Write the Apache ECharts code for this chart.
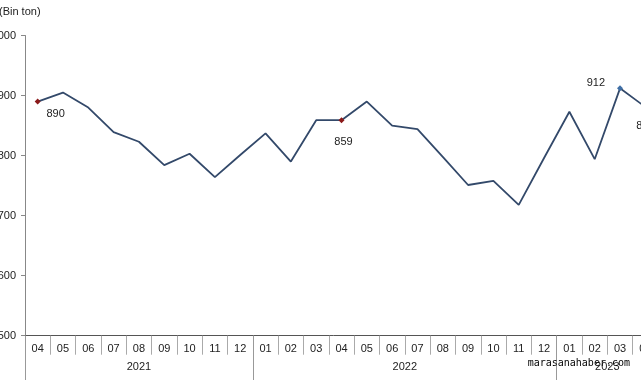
<!DOCTYPE html>
<html><head><meta charset="utf-8">
<script src="https://cdn.jsdelivr.net/npm/echarts@6/dist/echarts.min.js"></script>
<style>html,body{margin:0;padding:0;background:#fff}#c{width:641px;height:380px}</style>
</head><body><div id="c"></div>
<script>
const years = ['2021', '2022', '2023'];
const months2021 = ['04','05','06','07','08','09','10','11','12'];
const months2022 = ['01','02','03','04','05','06','07','08','09','10','11','12'];
const months2023 = ['01','02','03','04'];
const values2021 = [890, 905, 880, 839, 823, 784, 803, 764, 801];
const values2022 = [837, 790, 859, 859, 890, 850, 844, 798, 751, 758, 718, 796];
const values2023 = [873, 794, 912, 881];
const yMin = 500, yMax = 1000, yStep = 100;
const unitLabel = '(Bin ton)';
const watermark = 'marasanahaber.com';

const monthGroups = [months2021, months2022, months2023];
const categories = [].concat(...monthGroups);
const values = [].concat(values2021, values2022, values2023);
const N = categories.length;

const bounds = [0]; const centers = [];
monthGroups.forEach(g => { const s = bounds[bounds.length - 1]; bounds.push(s + g.length); centers.push(s + g.length / 2); });

const FONT = "'Liberation Sans', Arial, sans-serif";
const red = '#8B1A1A', blue = '#3F6FA6', lineColor = '#33496A';

const highlights = {
  0:  { color: red,  label: { position: 'bottom', distance: 4, offset: [18, 0] } },
  12: { color: red,  label: { position: 'bottom', distance: 13, offset: [2, 0] } },
  23: { color: blue, label: { position: 'left', distance: 12, offset: [0, -5] } },
  24: { color: lineColor, label: { position: 'bottom', distance: 11, offset: [0, 0] } }
};

const data = values.map((v, i) => {
  const h = highlights[i];
  if (!h) return { value: v };
  return {
    value: v, symbol: 'diamond', symbolSize: 6, itemStyle: { color: h.color },
    label: Object.assign({ show: true, color: '#222', fontSize: 11, fontFamily: FONT }, h.label)
  };
});

const chart = echarts.init(document.getElementById('c'), null, { renderer: 'canvas' });
chart.setOption({
  animation: false,
  title: { text: unitLabel, left: -1, top: 6, padding: 0, textStyle: { fontSize: 11, fontWeight: 'normal', color: '#222', fontFamily: FONT } },
  grid: { left: 25, right: -17, top: 35.5, bottom: 44.3, containLabel: false, outerBoundsMode: 'none' },
  xAxis: [
    {
      type: 'category', data: categories, boundaryGap: true, position: 'bottom',
      axisLine: { show: true, lineStyle: { color: '#555', width: 1 } },
      axisTick: { show: true, interval: 0, length: 19, alignWithLabel: false, lineStyle: { color: '#aaa' } },
      axisLabel: { interval: 0, margin: 8, fontSize: 11, color: '#222', fontFamily: FONT, hideOverlap: false },
      splitLine: { show: false }
    },
    {
      type: 'value', min: 0, max: N, position: 'bottom',
      axisLine: { show: false },
      axisTick: { show: true, customValues: bounds, length: 46, lineStyle: { color: '#999' } },
      axisLabel: { show: true, customValues: centers, margin: 26, fontSize: 11, color: '#222', fontFamily: FONT,
        formatter: v => { const k = centers.findIndex(c => Math.abs(c - v) < 1e-6); return k >= 0 ? years[k] : ''; } },
      splitLine: { show: false }
    }
  ],
  yAxis: {
    type: 'value', min: yMin, max: yMax, interval: yStep,
    axisLine: { show: true, lineStyle: { color: '#888' } },
    axisTick: { show: true, length: 4, lineStyle: { color: '#888' } },
    axisLabel: { margin: 9, fontSize: 11, color: '#222', fontFamily: FONT, formatter: v => String(v) },
    splitLine: { show: false }
  },
  series: [{
    type: 'line', data: data, xAxisIndex: 0,
    symbol: 'none', showSymbol: true, showAllSymbol: true, symbolSize: 6,
    lineStyle: { color: lineColor, width: 1.8 },
    itemStyle: { color: lineColor },
    label: { show: false },
    z: 3
  }],
  graphic: [{
    type: 'text', right: 11, top: 358, z: 100,
    style: { text: watermark, font: "10px 'DejaVu Sans Mono', monospace", fill: '#000' }
  }]
});
</script>
</body></html>
